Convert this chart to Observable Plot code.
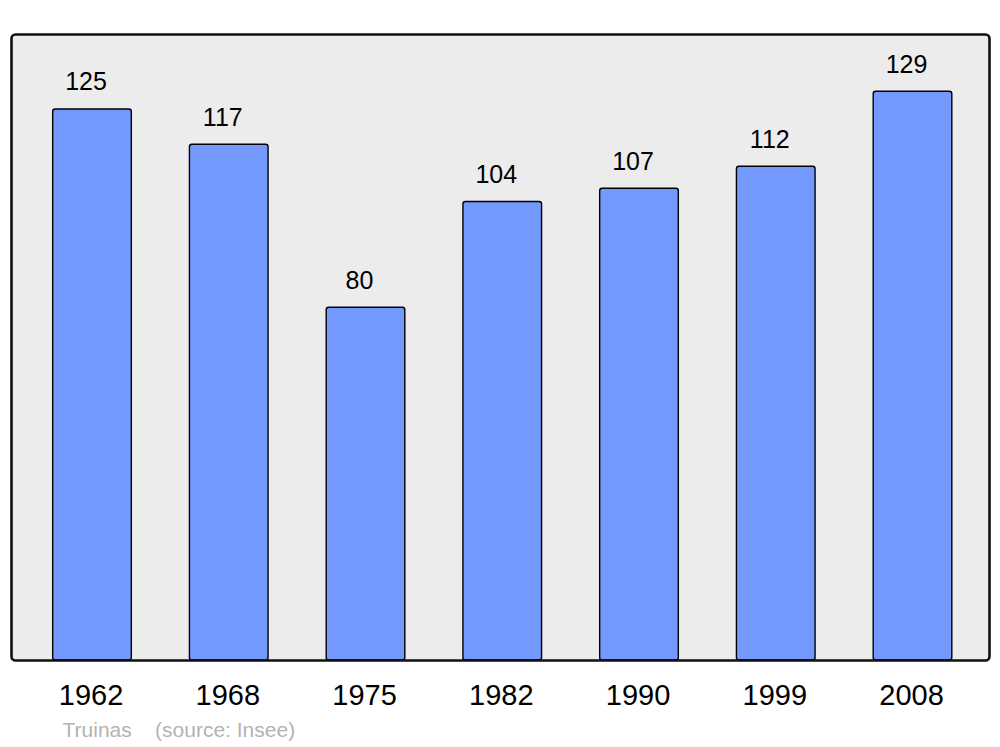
<!DOCTYPE html>
<html>
<head>
<meta charset="utf-8">
<script src="https://cdn.jsdelivr.net/npm/d3@7"></script>
<script src="https://cdn.jsdelivr.net/npm/@observablehq/plot@0.6"></script>
<style>
  body { margin: 0; background: white; }
  svg text { white-space: pre; }
</style>
</head>
<body>
<div id="chart"></div>
<script>
const years = ["1962", "1968", "1975", "1982", "1990", "1999", "2008"];
const population = [125, 117, 80, 104, 107, 112, 129];
const captionText = ["Truinas    (source: Insee)"];

const data = years.map((y, i) => ({year: y, value: population[i]}));

const chart = Plot.plot({
  width: 1000,
  height: 747,
  marginTop: 34,
  marginBottom: 87,
  marginLeft: 11,
  marginRight: 11,
  style: {fontFamily: "'Liberation Sans', Arial, sans-serif", background: "white", color: "black"},
  x: {domain: years, range: [13.3, 991.2], round: false, paddingInner: 0.425, paddingOuter: 0.288, label: null},
  y: {domain: [0, 142], axis: null},
  marks: [
    Plot.frame({fill: "#ececec", stroke: "none", rx: 4}),
    Plot.barY(data, {x: "year", y: "value", fill: "#7399ff", stroke: "black", strokeWidth: 1.4, rx: 2.5}),
    Plot.text(data, {x: "year", y: "value", text: d => String(d.value), dx: -6.5, dy: -27, fontSize: 25, fill: "black"}),
    Plot.frame({fill: "none", stroke: "#111", strokeWidth: 2.6, rx: 4}),
    Plot.axisX({tickSize: 0, tickPadding: 24, fontSize: 29, dx: -1.5, label: null}),
    Plot.text(captionText, {frameAnchor: "bottom-left", text: d => d, dx: 51, dy: 70, fontSize: 21, fill: "#b3b3b3", textAnchor: "start", lineAnchor: "middle"})
  ]
});
document.getElementById("chart").appendChild(chart);
</script>
</body>
</html>
